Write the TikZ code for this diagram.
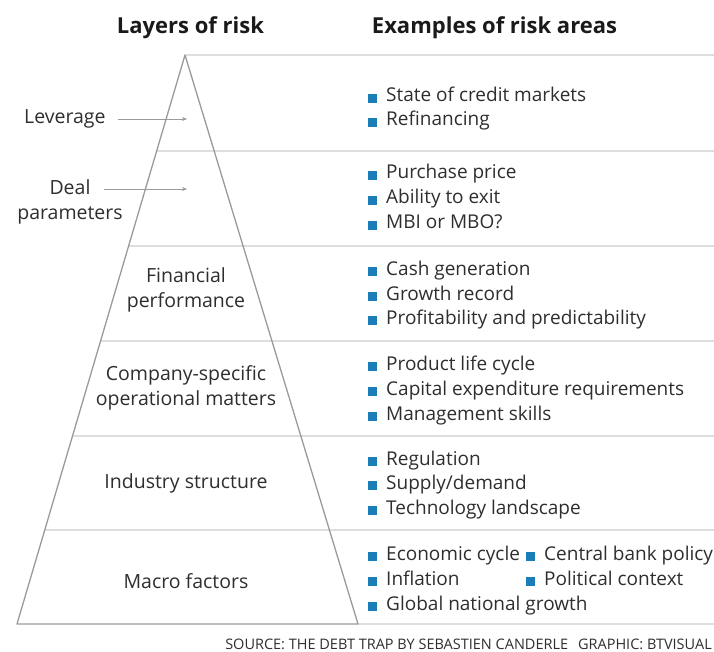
\documentclass[tikz,border=0pt]{standalone}
\usepackage{fontspec}
\setmainfont{Open Sans}
\usetikzlibrary{arrows.meta}
\definecolor{ink}{HTML}{2E2E2E}
\definecolor{headink}{HTML}{1A1A1A}
\definecolor{rule}{HTML}{DEDEDE}
\definecolor{edge}{HTML}{9A9A9A}
\definecolor{bullet}{HTML}{1B7DB8}
\tikzset{
  heading/.style={font=\bfseries\fontsize{22}{24}\selectfont, text=headink, inner sep=0pt},
  layer/.style={font=\fontsize{19.5}{24.5}\selectfont, text=ink, align=center, inner sep=0pt},
  item/.style={font=\fontsize{19}{20}\selectfont, text=ink, anchor=base west, inner sep=0pt},
  divider/.style={draw=rule, line width=2pt},
  outline/.style={draw=edge, line width=1.3pt, line join=round},
  pointer/.style={draw=edge, line width=0.8pt, -{Stealth[length=5pt,width=4pt]}},
  sq/.style={fill=bullet},
  source/.style={font=\fontsize{14.5}{15}\selectfont, text=ink, inner sep=0pt, anchor=base east}
}
\newcommand{\bitem}[3]{%
  \fill[sq] (#1-18,-#2+1) rectangle ++(9,-9);
  \node[item] at (#1,-#2-7) {#3};}
\begin{document}
\begin{tikzpicture}[x=1pt,y=1pt]
\useasboundingbox (0,0) rectangle (714,-652);
% horizontal band rules
\coordinate (apex) at (185,-55);
\coordinate (bl) at (17,-624);
\coordinate (br) at (358,-624);
\draw[divider] (apex) -- (714,-55);
\foreach \yy in {151,246,341,436,530}{
  \pgfmathsetmacro{\xl}{185-0.29525*(\yy-55)}
  \draw[divider] (\xl,-\yy) -- (714,-\yy);
}
\draw[divider] (br) -- (714,-624);
% pyramid
\draw[outline] (apex) -- (bl) -- (br) -- cycle;
% headings
\node[heading] (h1) at (190.5,-28) {Layers of risk};
\node[heading] (h2) at (494.5,-28) {Examples of risk areas};
% layer labels
\node[layer, anchor=west] (lev) at (24,-119) {Leverage};
\coordinate (levtail) at (118,-119);
\coordinate (levtip) at (187,-119);
\draw[pointer] (levtail) -- (levtip);
\node[layer] (deal) at (70,-202) {Deal\\parameters};
\coordinate (dealtip) at (187,-189);
\coordinate (dealtail) at (104,-189);
\draw[pointer] (dealtail) -- (dealtip);
\node[layer] (fin) at (186,-290) {Financial\\performance};
\node[layer] (comp) at (186,-388) {Company-specific\\operational matters};
\node[layer] (ind) at (186,-483) {Industry structure};
\node[layer] (mac) at (186,-581) {Macro factors};
% example items
\bitem{386}{95}{State of credit markets}
\bitem{386}{119}{Refinancing}
\bitem{386}{172}{Purchase price}
\bitem{386}{197}{Ability to exit}
\bitem{386}{222}{MBI or MBO?}
\bitem{386}{268}{Cash generation}
\bitem{386}{293}{Growth record}
\bitem{386}{317}{Profitability and predictability}
\bitem{386}{363}{Product life cycle}
\bitem{386}{388}{Capital expenditure requirements}
\bitem{386}{413}{Management skills}
\bitem{386}{458}{Regulation}
\bitem{386}{482}{Supply/demand}
\bitem{386}{507}{Technology landscape}
\bitem{386}{553}{Economic cycle}
\bitem{544}{553}{Central bank policy}
\bitem{386}{578}{Inflation}
\bitem{544}{578}{Political context}
\bitem{386}{603}{Global national growth}
% credit line
\node[source] (src) at (712,-649) {SOURCE: THE DEBT TRAP BY SEBASTIEN CANDERLE\hspace{10pt}GRAPHIC: BTVISUAL};
\end{tikzpicture}
\end{document}
